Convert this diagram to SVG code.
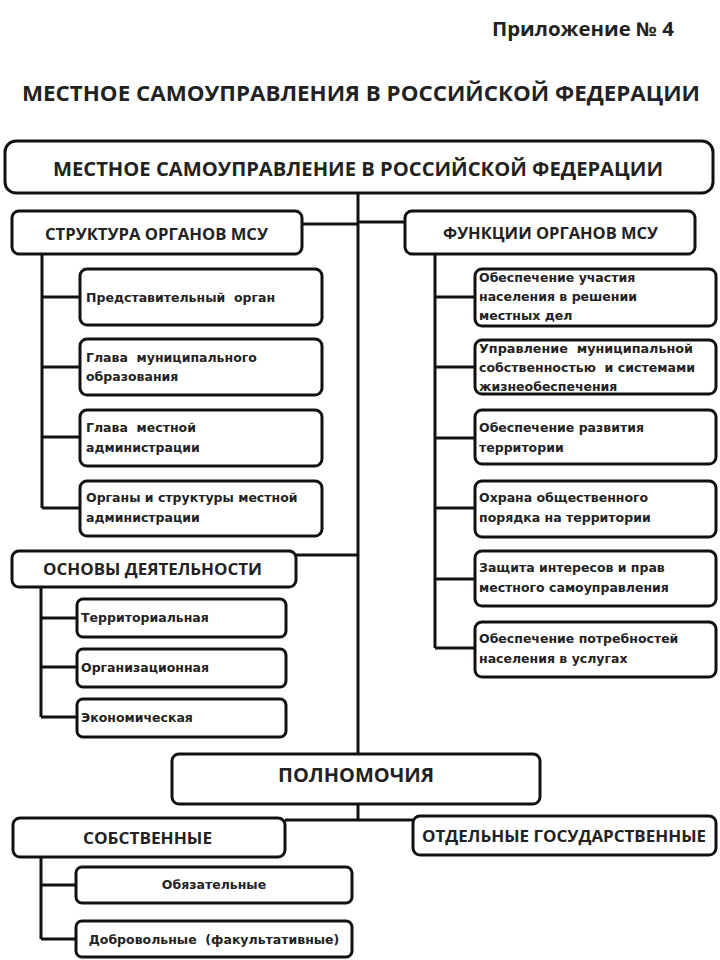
<svg xmlns="http://www.w3.org/2000/svg" width="720" height="960" viewBox="0 0 720 960">
<style>
.bg{fill:#ffffff}
.box{fill:#ffffff;stroke:#111;stroke-width:3}
.ln{fill:none;stroke:#111;stroke-width:3}
.hd{font-family:"Open Sans","Liberation Sans",sans-serif;font-weight:bold;fill:#222}
.tx{font-family:"DejaVu Sans","Liberation Sans",sans-serif;font-weight:bold;font-size:12.5px;fill:#222;white-space:pre}
</style>
<rect class="bg" x="0" y="0" width="720" height="960"/>
<text class="hd" x="492" y="36" font-size="19" textLength="182" lengthAdjust="spacingAndGlyphs">Приложение № 4</text>
<text class="hd" x="22" y="101" font-size="21.5" textLength="678" lengthAdjust="spacingAndGlyphs">МЕСТНОЕ САМОУПРАВЛЕНИЯ В РОССИЙСКОЙ ФЕДЕРАЦИИ</text>

<g id="connectors">
<path class="ln" d="M358 193V754"/>
<path class="ln" d="M302 224H358M358 222H405"/>
<path class="ln" d="M296 555H358"/>
<path class="ln" d="M42 254V508M42 297H80M42 367H80M42 437H80M42 508H80"/>
<path class="ln" d="M435 254V648M435 297H475M435 367H475M435 438H475M435 508H475M435 579H475M435 648H475"/>
<path class="ln" d="M41 587V717M41 618H77M41 667H77M41 717H77"/>
<path class="ln" d="M358 804V820M285 820H413"/>
<path class="ln" d="M41 857V939M41 885H76M41 939H76"/>
</g>

<g id="root">
<rect class="box" x="5" y="141" width="708" height="52" rx="11"/>
<text class="hd" x="53" y="176" font-size="20" textLength="610" lengthAdjust="spacingAndGlyphs">МЕСТНОЕ САМОУПРАВЛЕНИЕ В РОССИЙСКОЙ ФЕДЕРАЦИИ</text>
</g>

<g id="structure">
<rect class="box" x="12" y="211" width="290" height="43" rx="7"/>
<text class="hd" x="45" y="240" font-size="16" textLength="223" lengthAdjust="spacingAndGlyphs">СТРУКТУРА ОРГАНОВ МСУ</text>
</g>
<g id="s1">
<rect class="box" x="80" y="269" width="242" height="56" rx="7"/>
<text class="tx" x="86" y="302">Представительный  орган</text>
</g>
<g id="s2">
<rect class="box" x="80" y="339" width="242" height="56" rx="7"/>
<text class="tx" x="86" y="362">Глава  муниципального</text>
<text class="tx" x="86" y="381">образования</text>
</g>
<g id="s3">
<rect class="box" x="80" y="410" width="242" height="56" rx="7"/>
<text class="tx" x="86" y="432">Глава  местной</text>
<text class="tx" x="86" y="452">администрации</text>
</g>
<g id="s4">
<rect class="box" x="80" y="481" width="242" height="55" rx="7"/>
<text class="tx" x="86" y="502">Органы и структуры местной</text>
<text class="tx" x="86" y="522">администрации</text>
</g>

<g id="functions">
<rect class="box" x="405" y="211" width="290" height="43" rx="7"/>
<text class="hd" x="443" y="239" font-size="16" textLength="215" lengthAdjust="spacingAndGlyphs">ФУНКЦИИ ОРГАНОВ МСУ</text>
</g>
<g id="f1">
<rect class="box" x="475" y="269" width="241" height="57" rx="7"/>
<text class="tx" x="479" y="282">Обеспечение участия</text>
<text class="tx" x="479" y="301">населения в решении</text>
<text class="tx" x="479" y="320">местных дел</text>
</g>
<g id="f2">
<rect class="box" x="475" y="340" width="241" height="54" rx="7"/>
<text class="tx" x="479" y="353" textLength="214" lengthAdjust="spacingAndGlyphs">Управление  муниципальной</text>
<text class="tx" x="479" y="372" textLength="216" lengthAdjust="spacingAndGlyphs">собственностью  и системами</text>
<text class="tx" x="479" y="391">жизнеобеспечения</text>
</g>
<g id="f3">
<rect class="box" x="475" y="410" width="241" height="54" rx="7"/>
<text class="tx" x="479" y="432">Обеспечение развития</text>
<text class="tx" x="479" y="452">территории</text>
</g>
<g id="f4">
<rect class="box" x="475" y="481" width="241" height="56" rx="7"/>
<text class="tx" x="479" y="502">Охрана общественного</text>
<text class="tx" x="479" y="522">порядка на территории</text>
</g>
<g id="f5">
<rect class="box" x="475" y="551" width="241" height="55" rx="7"/>
<text class="tx" x="479" y="572">Защита интересов и прав</text>
<text class="tx" x="479" y="592">местного самоуправления</text>
</g>
<g id="f6">
<rect class="box" x="475" y="622" width="241" height="55" rx="7"/>
<text class="tx" x="479" y="643">Обеспечение потребностей</text>
<text class="tx" x="479" y="663">населения в услугах</text>
</g>

<g id="basis">
<rect class="box" x="12" y="551" width="284" height="36" rx="7"/>
<text class="hd" x="43" y="575" font-size="16" textLength="219" lengthAdjust="spacingAndGlyphs">ОСНОВЫ ДЕЯТЕЛЬНОСТИ</text>
</g>
<g id="b1">
<rect class="box" x="77" y="599" width="209" height="38" rx="6"/>
<text class="tx" x="81" y="622">Территориальная</text>
</g>
<g id="b2">
<rect class="box" x="77" y="649" width="209" height="38" rx="6"/>
<text class="tx" x="81" y="672">Организационная</text>
</g>
<g id="b3">
<rect class="box" x="77" y="699" width="209" height="38" rx="6"/>
<text class="tx" x="81" y="722">Экономическая</text>
</g>

<g id="powers">
<rect class="box" x="172" y="754" width="368" height="50" rx="7"/>
<text class="hd" x="278" y="782" font-size="19" textLength="156" lengthAdjust="spacingAndGlyphs">ПОЛНОМОЧИЯ</text>
</g>
<g id="own">
<rect class="box" x="13" y="818" width="272" height="39" rx="7"/>
<text class="hd" x="83" y="844" font-size="16" textLength="129" lengthAdjust="spacingAndGlyphs">СОБСТВЕННЫЕ</text>
</g>
<g id="state">
<rect class="box" x="413" y="816" width="303" height="39" rx="7"/>
<text class="hd" x="422" y="842" font-size="16" textLength="284" lengthAdjust="spacingAndGlyphs">ОТДЕЛЬНЫЕ ГОСУДАРСТВЕННЫЕ</text>
</g>
<g id="o1">
<rect class="box" x="76" y="867" width="276" height="36" rx="6"/>
<text class="tx" x="214" y="889" text-anchor="middle">Обязательные</text>
</g>
<g id="o2">
<rect class="box" x="76" y="921" width="276" height="36" rx="6"/>
<text class="tx" x="214" y="944" text-anchor="middle">Добровольные  (факультативные)</text>
</g>
</svg>
